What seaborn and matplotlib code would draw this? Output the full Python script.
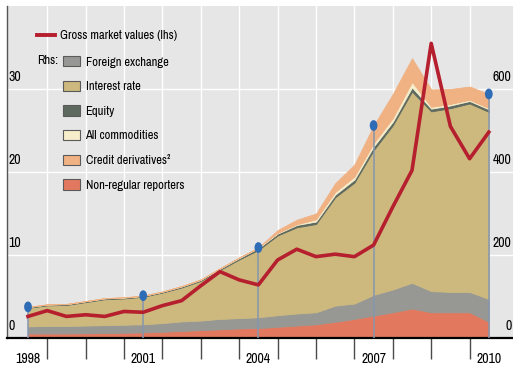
import numpy as np
import matplotlib
matplotlib.use("Agg")
import matplotlib.pyplot as plt
import seaborn as sns
from matplotlib.markers import MarkerStyle
from matplotlib.transforms import Affine2D, blended_transform_factory
from matplotlib.patches import Patch
from matplotlib.lines import Line2D

plt.rcParams["font.family"] = ["Archivo Narrow", "Liberation Sans", "DejaVu Sans"]

# Half-yearly observations, end-June 1998 to end-June 2010
periods = ["1998-06", "1998-12", "1999-06", "1999-12", "2000-06", "2000-12",
           "2001-06", "2001-12", "2002-06", "2002-12", "2003-06", "2003-12",
           "2004-06", "2004-12", "2005-06", "2005-12", "2006-06", "2006-12",
           "2007-06", "2007-12", "2008-06", "2008-12", "2009-06", "2009-12",
           "2010-06"]

# Gross market values, USD trn (left-hand scale)
gross_market_values = [2.6, 3.3, 2.6, 2.8, 2.6, 3.2, 3.1, 3.9, 4.5, 6.3, 8.0, 7.0, 6.4,
                       9.4, 10.7, 9.8, 10.1, 9.8, 11.2, 15.8, 20.2, 35.5, 25.5, 21.6, 24.8]

# Notional amounts outstanding by risk category, USD trn (right-hand scale)
non_regular = [11, 11, 11, 11.5, 12, 12.5, 13.5, 15, 17, 19, 21, 23, 24,
               27, 30, 33, 39, 46, 54, 62, 71, 62, 62, 62, 39]
foreign_exchange = [17, 18, 18, 18.5, 19, 19.5, 19.5, 21, 23, 23, 25, 25, 26,
                    28, 29, 29, 39, 37, 50, 55, 62, 51, 49, 49, 55]
interest_rate = [44.6, 49.6, 50.6, 56.5, 62.4, 63.3, 66.4, 73.4, 81.7, 95.6, 118.0, 141.1, 162.2,
                 192.1, 207.8, 212.6, 261.1, 291.4, 348.4, 395.5, 460.8, 433.1, 442.7, 454.1, 450.8]
equity = [2, 2, 2, 2, 2, 2, 2, 2, 2.5, 2.5, 3, 3.5, 4.5,
          4.5, 5.5, 6, 6.5, 7.5, 9, 8.5, 10, 6.5, 6.6, 6, 6.3]
commodities = [0.4, 0.4, 0.4, 0.5, 0.6, 0.7, 0.6, 0.6, 0.8, 0.9, 1.0, 1.4, 1.3,
               1.4, 1.7, 5.4, 6.4, 7.1, 7.6, 9.0, 13.2, 4.4, 3.7, 2.9, 2.9]
credit_derivatives = [0, 0, 0, 0, 0, 0, 0, 0, 0, 0, 0, 0, 0,
                      7, 11, 14, 21, 29, 43, 58, 57, 42, 36, 32, 34]

# Triennial survey dates (periods where non-regular reporters are surveyed)
survey_periods = ["1998-06", "2001-06", "2004-06", "2007-06", "2010-06"]
year_labels = ["1998", "2001", "2004", "2007", "2010"]

lhs_ticks = [0, 10, 20, 30]
rhs_ticks = [0, 200, 400, 600]

series_labels = ["Foreign exchange", "Interest rate", "Equity", "All commodities",
                 "Credit derivatives\u00b2", "Non-regular reporters"]

c_nonreg = "#e2795f"
c_fx = "#979893"
c_ir = "#cdb97e"
c_eq = "#5e6a60"
c_comm = "#f6eecb"
c_credit = "#f0b183"
c_line = "#b51f2e"
c_dot = "#2f6cb6"
c_survey = "#8596ae"
bg = "#e6e6e6"

x = np.arange(len(periods))
survey_x = np.array([periods.index(p) for p in survey_periods])
layers = np.array([non_regular, foreign_exchange, interest_rate, equity,
                   commodities, credit_derivatives])
totals = layers.sum(axis=0)
survey_totals = totals[survey_x]

fig = plt.figure(figsize=(5.13, 3.69), dpi=100)
ax = fig.add_axes([7 / 513, 31 / 369, 506 / 513, 332 / 369])
ax.set_facecolor(bg)

# Stacked notional amounts on the right-hand scale
colors = [c_nonreg, c_fx, c_ir, c_eq, c_comm, c_credit]
polys = ax.stackplot(x, *layers, colors=colors, zorder=2)
for p, c in zip(polys, colors):
    p.set_edgecolor(c)
    p.set_linewidth(0.6)

# Survey markers
ax.vlines(survey_x, 0, survey_totals, color=c_survey, lw=1.1, zorder=3)
dot = MarkerStyle("o", transform=Affine2D().scale(0.72, 1.0))
sns.scatterplot(x=survey_x, y=survey_totals, ax=ax, marker=dot, s=60,
                color=c_dot, edgecolor="none", zorder=4, legend=False)

ax.set_ylim(0, 800)
ax.set_yticks(rhs_ticks[1:])
ax.tick_params(axis="y", which="both", length=0, labelleft=False, labelright=False)
ax.set_xticks(np.arange(1, len(periods), 2))
ax.set_xticks(survey_x, labels=year_labels, minor=True)
ax.tick_params(axis="x", which="major", direction="out", length=15, width=1,
               color="#4a4a4a", labelbottom=False)
ax.tick_params(axis="x", which="minor", length=0, pad=10, labelsize=10)
ax.grid(True, which="major", color="white", lw=1)
ax.set_axisbelow(True)
for s in ("top", "right"):
    ax.spines[s].set_visible(False)
ax.spines["bottom"].set_color("black")
ax.spines["bottom"].set_linewidth(1.6)
ax.spines["left"].set_color("#555555")
ax.spines["left"].set_linewidth(1.0)
ax.set_xlabel("")
ax.set_ylabel("")

# Gross market values on the left-hand scale, drawn on top
ax_l = ax.twinx()
sns.lineplot(x=x, y=gross_market_values, ax=ax_l, color=c_line, lw=2.6,
             zorder=5, legend=False)
ax_l.set_ylim(0, 40)
ax_l.set_yticks([])
for s in ax_l.spines.values():
    s.set_visible(False)
ax_l.set_ylabel("")

ax.set_xlim(-21 / 19.2, 485 / 19.2)

# Axis value labels, placed above their gridlines inside the panel
trans_l = blended_transform_factory(ax_l.transAxes, ax_l.transData)
for v in lhs_ticks:
    ax_l.annotate(str(v), xy=(0, v), xycoords=trans_l, xytext=(1.5, 12),
                  textcoords="offset pixels", ha="left", va="center", fontsize=10)
trans_r = blended_transform_factory(ax.transAxes, ax.transData)
for v in rhs_ticks:
    ax.annotate(str(v), xy=(1, v), xycoords=trans_r, xytext=(-1.5, 12),
                textcoords="offset pixels", ha="right", va="center", fontsize=10)

# Legends
leg1 = fig.legend(handles=[Line2D([0], [0], color=c_line, lw=2.8)],
                  labels=["Gross market values (lhs)"], loc="upper left",
                  bbox_to_anchor=(37 / 513, 1 - 30 / 369), frameon=False,
                  borderpad=0, borderaxespad=0, handlelength=1.45,
                  handletextpad=0.4, fontsize=9)
patch_colors = [c_fx, c_ir, c_eq, c_comm, c_credit, c_nonreg]
handles = [Patch(facecolor=c, edgecolor="#5a5a5a", lw=0.8) for c in patch_colors]
leg2 = fig.legend(handles=handles, labels=series_labels, loc="upper left",
                  bbox_to_anchor=(63 / 513, 1 - 56 / 369), frameon=False,
                  borderpad=0, borderaxespad=0, handlelength=1.35,
                  handleheight=0.9, handletextpad=0.45, labelspacing=1.05,
                  fontsize=9)
fig.text(37 / 513, 1 - 61 / 369, "Rhs:", ha="left", va="center", fontsize=9)

fig.savefig("out.png", dpi=100)
